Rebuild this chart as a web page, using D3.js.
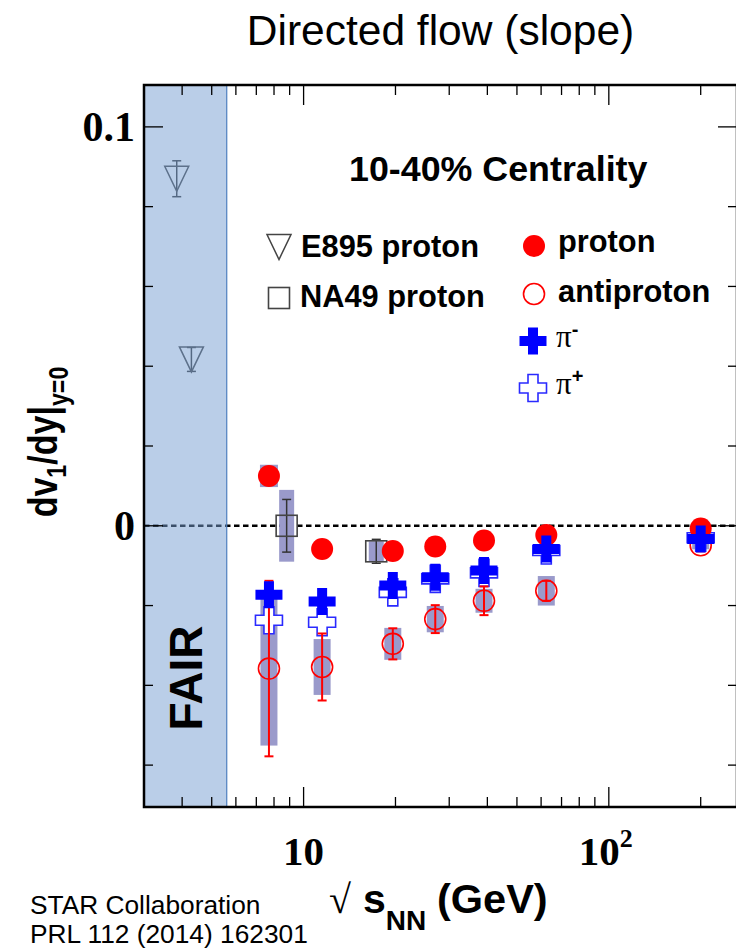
<!DOCTYPE html>
<html>
<head>
<meta charset="utf-8">
<script src="https://cdn.jsdelivr.net/npm/d3@7/dist/d3.min.js"></script>
<style>
  html, body { margin: 0; padding: 0; background: #fff; }
  svg { display: block; }
  .sans { font-family: "Liberation Sans", Arial, Helvetica, sans-serif; }
  .serif { font-family: "Liberation Serif", "Times New Roman", serif; }
</style>
</head>
<body>
<svg id="chart" width="736" height="949"></svg>
<script>
// STAR beam-energy-scan: directed-flow slope at mid-rapidity, 10-40% centrality
const energies = [7.7, 11.5, 19.6, 27, 39, 62.4, 200];
const protonSlope = [0.0125, -0.0058, -0.0063, -0.0052, -0.0037, -0.0023, -0.0007];
const protonSys = [0.0028, 0, 0, 0, 0, 0, 0];
const antiprotonSlope = [-0.0358, -0.0354, -0.0296, -0.0234, -0.0188, -0.0163, -0.0049];
const antiprotonStat = [0.0220, 0.0084, 0.0039, 0.0035, 0.0036, 0.0025, 0.0015];
const antiprotonSys = [0.0193, 0.0070, 0.0040, 0.0033, 0.0030, 0.0037, 0.0010];
const piMinusSlope = [-0.0173, -0.0190, -0.0150, -0.0129, -0.0112, -0.0058, -0.0033];
const piPlusSlope = [-0.0237, -0.0242, -0.0167, -0.0133, -0.0118, -0.0062, -0.0030];

const na49Energies = [8.8, 17.3];
const na49Slope = [0.0, -0.0064];
const na49Stat = [0.0066, 0.0030];
const na49Sys = [0.0090, 0.0025];

const e895Energies = [3.84, 4.29];
const e895Slope = [0.0870, 0.0417];
const e895Stat = [0.0045, 0.0030];

const fairLimit = 5.6;
const xTickValues = [4, 5, 6, 7, 8, 9, 10, 20, 30, 40, 50, 60, 70, 80, 90, 100, 200];
const xMajorTicks = [10, 100];
const yTickValues = [-0.06, -0.04, -0.02, 0, 0.02, 0.04, 0.06, 0.08, 0.1];
const yMajorTicks = [0, 0.1];

const svg = d3.select("#chart");
const pLeft = 144, pRight = 737, pTop = 85, pBottom = 807;

const x = d3.scaleLog().domain([3, 263]).range([pLeft, pRight]);
const y = d3.scaleLinear().domain([-0.0705, 0.1105]).range([pBottom, pTop]);

const sysColor = "#9a9acb";
const red = "#ff0000";
const blue = "#0000ff";

// title
svg.append("text").attr("class", "sans")
  .attr("x", 440.5).attr("y", 45).attr("text-anchor", "middle")
  .attr("font-size", 42.5).attr("fill", "#000")
  .text("Directed flow (slope)");

const plot = svg.append("g");

// zero line
plot.append("line")
  .attr("x1", pLeft).attr("x2", pRight).attr("y1", y(0)).attr("y2", y(0))
  .attr("stroke", "#000").attr("stroke-width", 2.5).attr("stroke-dasharray", "5.5,3.5");

// systematic bands
function sysBands(en, val, sys, w) {
  plot.append("g").selectAll("rect").data(en.map((e, i) => ({ e, v: val[i], s: sys[i] })).filter(d => d.s > 0))
    .join("rect")
    .attr("x", d => x(d.e) - w / 2).attr("width", w)
    .attr("y", d => y(d.v + d.s)).attr("height", d => y(d.v - d.s) - y(d.v + d.s))
    .attr("fill", sysColor);
}
sysBands(energies, antiprotonSlope, antiprotonSys, 17);
sysBands(energies, protonSlope, protonSys, 18);
sysBands(na49Energies, na49Slope, na49Sys, 15);

// statistical error bars
function errBars(en, val, err, color, cap, sw) {
  const g = plot.append("g").attr("stroke", color).attr("stroke-width", sw).attr("fill", "none");
  en.forEach((e, i) => {
    const cx = x(e), y1 = y(val[i] + err[i]), y2 = y(val[i] - err[i]);
    g.append("line").attr("x1", cx).attr("x2", cx).attr("y1", y1).attr("y2", y2);
    g.append("line").attr("x1", cx - cap).attr("x2", cx + cap).attr("y1", y1).attr("y2", y1);
    g.append("line").attr("x1", cx - cap).attr("x2", cx + cap).attr("y1", y2).attr("y2", y2);
  });
}

const plusPath = "M-5,-13.5H5V-5H13.5V5H5V13.5H-5V5H-13.5V-5H-5Z";
const triPath = "M-12,-12.5H12L0,12.5Z";

// NA49 proton
errBars(na49Energies, na49Slope, na49Stat, "#333", 4.5, 1.5);
plot.append("g").selectAll("rect").data(na49Energies.map((e, i) => ({ e, v: na49Slope[i] })))
  .join("rect")
  .attr("x", d => x(d.e) - 10.5).attr("y", d => y(d.v) - 10.5)
  .attr("width", 21).attr("height", 21)
  .attr("fill", "none").attr("stroke", "#444").attr("stroke-width", 1.6);

// E895 proton
errBars(e895Energies, e895Slope, e895Stat, "#333", 4.5, 1.5);
plot.append("g").selectAll("path").data(e895Energies.map((e, i) => ({ e, v: e895Slope[i] })))
  .join("path")
  .attr("transform", d => `translate(${x(d.e)},${y(d.v)})`)
  .attr("d", triPath).attr("fill", "none").attr("stroke", "#444").attr("stroke-width", 1.5);

// pi+ (open crosses)
plot.append("g").selectAll("path").data(energies.map((e, i) => ({ e, v: piPlusSlope[i] })))
  .join("path")
  .attr("transform", d => `translate(${x(d.e)},${y(d.v)})`)
  .attr("d", plusPath).attr("fill", "#fff").attr("stroke", "#2a2aff").attr("stroke-width", 1.6);

// antiproton
errBars(energies, antiprotonSlope, antiprotonStat, red, 4.5, 2);
plot.append("g").selectAll("circle").data(energies.map((e, i) => ({ e, v: antiprotonSlope[i] })))
  .join("circle")
  .attr("cx", d => x(d.e)).attr("cy", d => y(d.v)).attr("r", 10.5)
  .attr("fill", "none").attr("stroke", red).attr("stroke-width", 1.6);

// proton
plot.append("g").selectAll("circle").data(energies.map((e, i) => ({ e, v: protonSlope[i] })))
  .join("circle")
  .attr("cx", d => x(d.e)).attr("cy", d => y(d.v)).attr("r", 11)
  .attr("fill", red);

// pi- (filled crosses)
plot.append("g").selectAll("path").data(energies.map((e, i) => ({ e, v: piMinusSlope[i] })))
  .join("path")
  .attr("transform", d => `translate(${x(d.e)},${y(d.v)})`)
  .attr("d", plusPath).attr("fill", blue);

// FAIR energy region (translucent overlay)
plot.append("rect")
  .attr("x", pLeft).attr("y", pTop).attr("width", x(fairLimit) - pLeft).attr("height", pBottom - pTop)
  .attr("fill", "rgb(118,158,210)").attr("fill-opacity", 0.5);
plot.append("line")
  .attr("x1", x(fairLimit)).attr("x2", x(fairLimit)).attr("y1", pTop).attr("y2", pBottom)
  .attr("stroke", "#4f7fbf").attr("stroke-width", 1.2);
svg.append("text").attr("class", "sans")
  .attr("transform", `translate(${(pLeft + x(fairLimit)) / 2 + 17},${678}) rotate(-90)`)
  .attr("text-anchor", "middle").attr("font-weight", "bold").attr("font-size", 46)
  .text("FAIR");

// axes: ticks on all four sides
const axG = svg.append("g").attr("stroke", "#000").attr("stroke-width", 1.3);
xTickValues.forEach(v => {
  const len = xMajorTicks.includes(v) ? 20 : 10;
  axG.append("line").attr("x1", x(v)).attr("x2", x(v)).attr("y1", pBottom).attr("y2", pBottom - len);
  axG.append("line").attr("x1", x(v)).attr("x2", x(v)).attr("y1", pTop).attr("y2", pTop + len);
});
yTickValues.forEach(v => {
  const len = yMajorTicks.includes(v) ? 19 : 9;
  axG.append("line").attr("x1", pLeft).attr("x2", pLeft + len).attr("y1", y(v)).attr("y2", y(v));
  axG.append("line").attr("x1", pRight).attr("x2", pRight - len).attr("y1", y(v)).attr("y2", y(v));
});
// frame
svg.append("rect").attr("x", pLeft).attr("y", pTop).attr("width", pRight - pLeft).attr("height", pBottom - pTop)
  .attr("fill", "none").attr("stroke", "#000").attr("stroke-width", 2.5);

// y tick labels
svg.append("g").attr("class", "serif").selectAll("text").data(yMajorTicks).join("text")
  .attr("x", 135).attr("y", d => y(d) + 14).attr("text-anchor", "end")
  .attr("font-weight", "bold").attr("font-size", 42)
  .text(d => d === 0 ? "0" : d3.format(".1f")(d));

// x tick labels
const xl = svg.append("g").attr("class", "serif").attr("font-weight", "bold");
xl.append("text").attr("x", x(10)).attr("y", 865).attr("text-anchor", "middle").attr("font-size", 41).text("10");
const t100 = xl.append("text").attr("x", x(100) - 3).attr("y", 865).attr("text-anchor", "middle").attr("font-size", 41);
t100.append("tspan").text("10");
t100.append("tspan").attr("dy", -18).attr("font-size", 26).text("2");

// x axis title
const xt = svg.append("text").attr("y", 913).attr("font-weight", "bold");
xt.append("tspan").attr("x", 329).attr("class", "serif").attr("font-weight", "normal").attr("font-size", 40).text("√");
xt.append("tspan").attr("x", 363).attr("class", "sans").attr("font-size", 41).text("s");
xt.append("tspan").attr("class", "sans").attr("dy", 17).attr("font-size", 28).text("NN");
xt.append("tspan").attr("x", 437).attr("y", 913).attr("class", "sans").attr("font-size", 41.5).text("(GeV)");

// y axis title (narrow set, as in the original figure)
const yt = svg.append("text").attr("class", "sans")
  .attr("transform", "translate(57,442) rotate(-90) scale(0.83,1)")
  .attr("text-anchor", "middle").attr("font-weight", "bold").attr("font-size", 41);
yt.append("tspan").text("dv");
yt.append("tspan").attr("font-size", 28).attr("dy", 9).text("1");
yt.append("tspan").attr("dy", -9).text("/dy|");
yt.append("tspan").attr("font-size", 28).attr("dy", 11).text("y=0");

// centrality label
svg.append("text").attr("class", "sans").attr("x", 349).attr("y", 181)
  .attr("font-weight", "bold").attr("font-size", 35.8).text("10-40% Centrality");

// legend
const lg = svg.append("g").attr("class", "sans").attr("font-weight", "bold").attr("font-size", 30.8);
lg.append("path").attr("transform", "translate(279,247)").attr("d", triPath)
  .attr("fill", "none").attr("stroke", "#444").attr("stroke-width", 1.5);
lg.append("text").attr("x", 301).attr("y", 257).text("E895 proton");
lg.append("rect").attr("x", 268.5).attr("y", 287.5).attr("width", 21).attr("height", 21)
  .attr("fill", "none").attr("stroke", "#444").attr("stroke-width", 1.6);
lg.append("text").attr("x", 300).attr("y", 307).text("NA49 proton");
lg.append("circle").attr("cx", 534).attr("cy", 246).attr("r", 11).attr("fill", red);
lg.append("text").attr("x", 558).attr("y", 252).text("proton");
lg.append("circle").attr("cx", 534).attr("cy", 294).attr("r", 10.5)
  .attr("fill", "none").attr("stroke", red).attr("stroke-width", 1.6);
lg.append("text").attr("x", 558).attr("y", 302).text("antiproton");
lg.append("path").attr("transform", "translate(533,341)").attr("d", plusPath).attr("fill", blue);
const pm = lg.append("text").attr("x", 556).attr("y", 347).attr("font-weight", "normal");
pm.append("tspan").attr("class", "serif").attr("font-size", 31).text("π");
pm.append("tspan").attr("dy", -11).attr("font-size", 20).attr("font-weight", "bold").text("-");
lg.append("path").attr("transform", "translate(533,388)").attr("d", plusPath)
  .attr("fill", "#fff").attr("stroke", "#2a2aff").attr("stroke-width", 1.6);
const pp = lg.append("text").attr("x", 556).attr("y", 394).attr("font-weight", "normal");
pp.append("tspan").attr("class", "serif").attr("font-size", 31).text("π");
pp.append("tspan").attr("dy", -11).attr("font-size", 20).attr("font-weight", "bold").text("+");

// reference
const ref = svg.append("g").attr("class", "sans").attr("font-size", 26.3).attr("fill", "#000");
ref.append("text").attr("x", 30).attr("y", 914).text("STAR Collaboration");
ref.append("text").attr("x", 30).attr("y", 943).text("PRL 112 (2014) 162301");
</script>
</body>
</html>
